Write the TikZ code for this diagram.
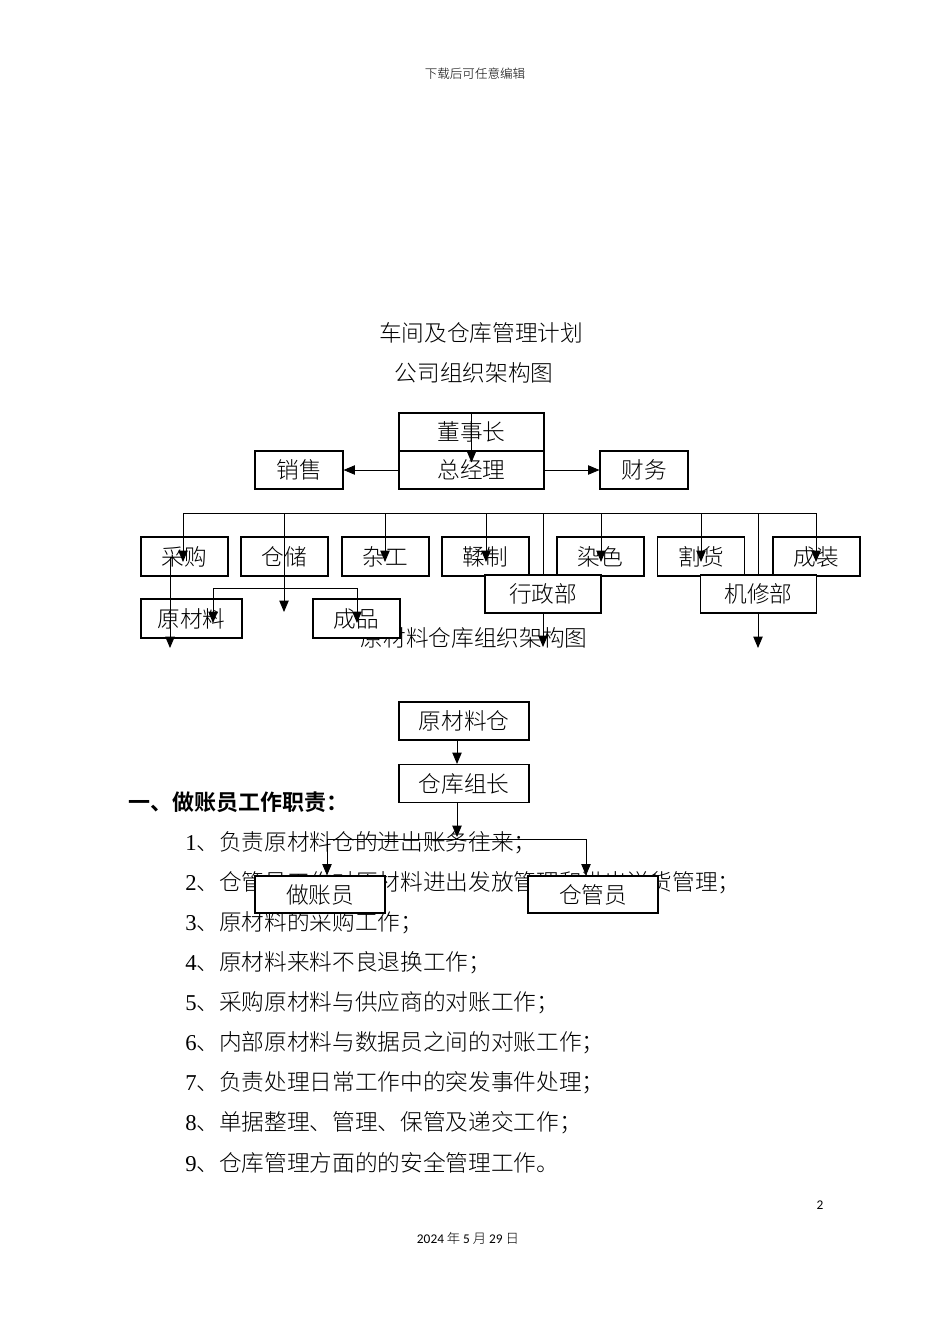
\documentclass[tikz,border=0pt]{standalone}
\usepackage{fontspec}
\setmainfont{Liberation Serif}
\newfontfamily\cjk[BoldFont={Noto Sans CJK SC Bold}]{Noto Sans CJK SC Light}
\newfontfamily\lat{Carlito}
\usetikzlibrary{arrows.meta}
\begin{document}
\begin{tikzpicture}[x=0.75pt,y=-0.75pt,
  box/.style={draw,fill=white,line width=0.8pt,inner sep=0pt,font=\cjk\fontsize{17}{20}\selectfont},
  bigbox/.style={box,minimum width=108.75pt,minimum height=28.5pt},
  sidebox/.style={box,minimum width=66pt,minimum height=28.5pt},
  rowbox/.style={box,minimum width=65.25pt,minimum height=29.25pt},
  deptbox/.style={box,minimum width=87pt,minimum height=28.5pt},
  subbox/.style={box,minimum height=29.25pt},
  lowbox/.style={box,minimum width=97.5pt,minimum height=28.5pt},
  ln/.style={line width=0.65pt},
  arr/.style={line width=0.65pt,-{Triangle[length=8.5pt,width=7pt]}},
  txt/.style={inner sep=0pt,font=\cjk\fontsize{17}{20}\selectfont},
  item/.style={txt,anchor=west}]
\fill[white] (0,0) rectangle (950,1344);
\useasboundingbox (0,0) rectangle (950,1344);

% texts
\node[txt,font=\cjk\fontsize{9.4}{11}\selectfont] (hdr) at (475,74) {下载后可任意编辑};
\node[txt] (t1) at (481,333) {车间及仓库管理计划};
\node[txt] (t2) at (474,373) {公司组织架构图};
\node[txt] (cap) at (474,638) {原材料仓库组织架构图};
\node[txt,anchor=west,font=\cjk\bfseries\fontsize{16.5}{20}\selectfont] (h1) at (128,802) {一、做账员工作职责：};
\node[item] (i1) at (185,843) {{\rmfamily 1}、负责原材料仓的进出账务往来；};
\node[item] (i2) at (185,883) {{\rmfamily 2}、仓管员工作对原材料进出发放管理和进出送货管理；};
\node[item] (i3) at (185,923) {{\rmfamily 3}、原材料的采购工作；};
\node[item] (i4) at (185,963) {{\rmfamily 4}、原材料来料不良退换工作；};
\node[item] (i5) at (185,1003) {{\rmfamily 5}、采购原材料与供应商的对账工作；};
\node[item] (i6) at (185,1043) {{\rmfamily 6}、内部原材料与数据员之间的对账工作；};
\node[item] (i7) at (185,1083) {{\rmfamily 7}、负责处理日常工作中的突发事件处理；};
\node[item] (i8) at (185,1123) {{\rmfamily 8}、单据整理、管理、保管及递交工作；};
\node[item] (i9) at (185,1163) {{\rmfamily 9}、仓库管理方面的的安全管理工作。};
\node[inner sep=0pt,font=\lat\fontsize{10}{12}\selectfont] (pg) at (820,1205) {2};
\node[inner sep=0pt,font=\cjk\fontsize{10}{12}\selectfont] (date) at (468,1238) {{\lat 2024} 年 {\lat 5} 月 {\lat 29} 日};

% boxes (under lines)
\node[bigbox] (dsz) at (471.5,432) {董事长};
\node[bigbox] (zjl) at (471.5,470) {总经理};
\node[sidebox] (xs) at (299,470) {销售};
\node[sidebox] (cw) at (644,470) {财务};
\node[rowbox] (cg) at (184.5,556.5) {采购};
\node[rowbox] (cc) at (284.5,556.5) {仓储};
\node[rowbox] (zg) at (385.5,556.5) {杂工};
\node[rowbox] (rz) at (485.5,556.5) {鞣制};
\node[rowbox] (rs) at (600.5,556.5) {染色};
\node[rowbox] (gh) at (701,556.5) {割货};
\node[rowbox] (cz) at (816.5,556.5) {成装};
\node[subbox,minimum width=75.75pt] (ycl) at (191.5,618.5) {原材料};
\node[subbox,minimum width=65.25pt] (cp) at (356.5,618.5) {成品};
\node[lowbox] (yclc) at (464,721) {原材料仓};
\node[lowbox] (ckzz) at (464,783.5) {仓库组长};
\node[lowbox,minimum height=27.75pt] (zzy) at (320,894.5) {做账员};
\node[lowbox,minimum height=27.75pt] (cgy) at (593,894.5) {仓管员};

% connectors
\draw[arr] (dsz.north) -- ++(0,50);
\draw[arr] (zjl.west) -- (xs.east);
\draw[arr] (zjl.east) -- (cw.west);
\coordinate (busL) at (183,513);
\coordinate (busR) at (816,513);
\draw[ln] (busL) -- (busR);
\foreach \x/\y in {183/562,284/612,385/562,486/562,543/647,601/562,701/562,758/648,816/562}
  \draw[arr] (\x,513) -- (\x,\y);
\draw[arr] (170,557) -- (170,648);
\coordinate (sbL) at (213,588);
\coordinate (sbR) at (357,588);
\draw[ln] (sbL) -- (sbR);
\draw[arr] (sbL) -- (213,623);
\draw[arr] (sbR) -- (357,623);

\draw[arr] ([xshift=-5.25pt]yclc.south) -- ([xshift=-5.25pt]ckzz.north);
\draw[arr] ([xshift=-5.25pt]ckzz.south) -- ++(0,34);
\coordinate (lbL) at (327,839);
\coordinate (lbR) at (586,839);
\draw[ln] (lbL) -- (lbR);
\draw[arr] (lbL) -- (lbL |- zzy.north);
\draw[arr] (lbR) -- (lbR |- cgy.north);

% boxes over lines
\node[deptbox] (xzb) at (543,594) {行政部};
\node[deptbox] (jxb) at (758.5,594) {机修部};
\end{tikzpicture}
\end{document}
